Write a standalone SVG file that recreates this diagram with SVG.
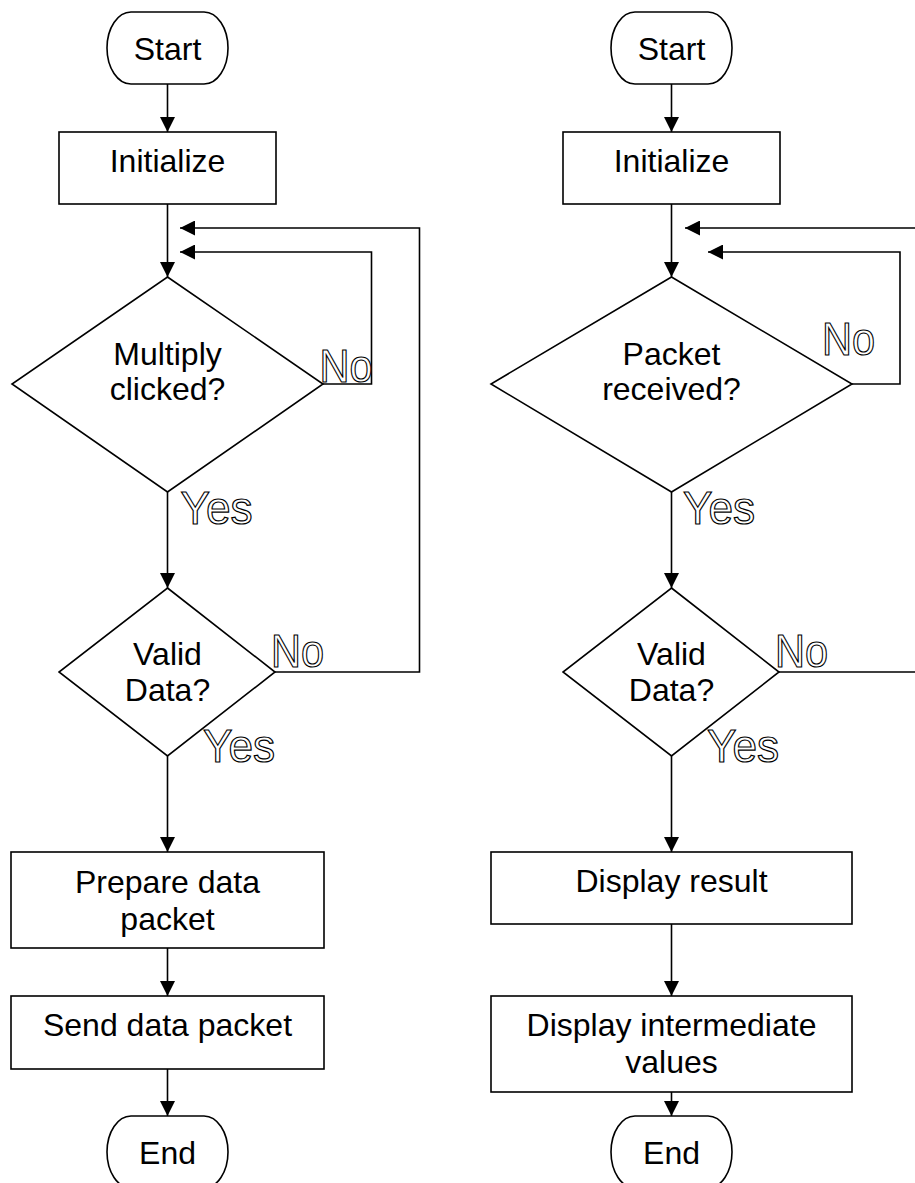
<svg xmlns="http://www.w3.org/2000/svg" width="915" height="1183" viewBox="0 0 915 1183">
  <style>
    .shape { fill: #ffffff; stroke: #000000; stroke-width: 1.6; }
    .wire { fill: none; stroke: #000000; stroke-width: 1.6; }
    .label { font-family: "Liberation Sans", Arial, sans-serif; font-size: 32px; fill: #000000; text-anchor: middle; }
    .branch { font-family: "Liberation Sans", Arial, sans-serif; font-size: 46px; fill: #ffffff; stroke: #000000; stroke-width: 1.2; }
  </style>
  <defs>
    <marker id="arrow" markerUnits="userSpaceOnUse" markerWidth="15" markerHeight="15" refX="15" refY="7.5" orient="auto">
      <path d="M0,0 L15,7.5 L0,15 Z" fill="#000000"/>
    </marker>
  </defs>
  <rect width="915" height="1183" fill="#ffffff"/>

  <!-- connectors -->
  <g id="connectors">
    <!-- sender flow -->
    <line class="wire" x1="167.5" y1="84" x2="167.5" y2="132" marker-end="url(#arrow)"/>
    <line class="wire" x1="167.5" y1="204" x2="167.5" y2="277" marker-end="url(#arrow)"/>
    <polyline class="wire" points="323,384 371.5,384 371.5,252 180,252" marker-end="url(#arrow)"/>
    <line class="wire" x1="167.5" y1="492" x2="167.5" y2="588" marker-end="url(#arrow)"/>
    <polyline class="wire" points="275,672 419.5,672 419.5,228 180,228" marker-end="url(#arrow)"/>
    <line class="wire" x1="167.5" y1="756" x2="167.5" y2="852" marker-end="url(#arrow)"/>
    <line class="wire" x1="167.5" y1="948" x2="167.5" y2="996" marker-end="url(#arrow)"/>
    <line class="wire" x1="167.5" y1="1069" x2="167.5" y2="1116" marker-end="url(#arrow)"/>
    <!-- receiver flow -->
    <line class="wire" x1="671.5" y1="84" x2="671.5" y2="132" marker-end="url(#arrow)"/>
    <line class="wire" x1="671.5" y1="204" x2="671.5" y2="277" marker-end="url(#arrow)"/>
    <polyline class="wire" points="852,384 900,384 900,252 708,252" marker-end="url(#arrow)"/>
    <line class="wire" x1="671.5" y1="492" x2="671.5" y2="588" marker-end="url(#arrow)"/>
    <polyline class="wire" points="779,672 924,672 924,228 685,228" marker-end="url(#arrow)"/>
    <line class="wire" x1="671.5" y1="756" x2="671.5" y2="852" marker-end="url(#arrow)"/>
    <line class="wire" x1="671.5" y1="924" x2="671.5" y2="996" marker-end="url(#arrow)"/>
    <line class="wire" x1="671.5" y1="1092" x2="671.5" y2="1116" marker-end="url(#arrow)"/>
  </g>

  <!-- sender nodes -->
  <g id="s-start">
    <rect class="shape" x="107" y="12" width="121" height="72" rx="24" ry="36"/>
    <text class="label" x="167.5" y="60">Start</text>
  </g>
  <g id="s-init">
    <rect class="shape" x="59" y="132" width="217" height="72"/>
    <text class="label" x="167.5" y="172">Initialize</text>
  </g>
  <g id="s-clicked">
    <polygon class="shape" points="167.5,277 323,384 167.5,492 12,384"/>
    <text class="label" x="167.5" y="365">Multiply</text>
    <text class="label" x="167.5" y="400">clicked?</text>
    <text class="branch" x="319.5" y="382" textLength="53" lengthAdjust="spacingAndGlyphs">No</text>
    <text class="branch" x="180.5" y="524" textLength="72" lengthAdjust="spacingAndGlyphs">Yes</text>
  </g>
  <g id="s-valid">
    <polygon class="shape" points="167.5,588 275,672 167.5,756 59,672"/>
    <text class="label" x="167.5" y="665">Valid</text>
    <text class="label" x="167.5" y="701">Data?</text>
    <text class="branch" x="271" y="667" textLength="53" lengthAdjust="spacingAndGlyphs">No</text>
    <text class="branch" x="203" y="762" textLength="72" lengthAdjust="spacingAndGlyphs">Yes</text>
  </g>
  <g id="s-prepare">
    <rect class="shape" x="11" y="852" width="313" height="96"/>
    <text class="label" x="167.5" y="893">Prepare data</text>
    <text class="label" x="167.5" y="930">packet</text>
  </g>
  <g id="s-send">
    <rect class="shape" x="11" y="996" width="313" height="73"/>
    <text class="label" x="167.5" y="1036">Send data packet</text>
  </g>
  <g id="s-end">
    <rect class="shape" x="107" y="1116" width="121" height="72" rx="24" ry="36"/>
    <text class="label" x="167.5" y="1164">End</text>
  </g>

  <!-- receiver nodes -->
  <g id="r-start">
    <rect class="shape" x="611" y="12" width="121" height="72" rx="24" ry="36"/>
    <text class="label" x="671.5" y="60">Start</text>
  </g>
  <g id="r-init">
    <rect class="shape" x="563" y="132" width="217" height="72"/>
    <text class="label" x="671.5" y="172">Initialize</text>
  </g>
  <g id="r-received">
    <polygon class="shape" points="671.5,277 852,384 671.5,492 491,384"/>
    <text class="label" x="671.5" y="365">Packet</text>
    <text class="label" x="671.5" y="400">received?</text>
    <text class="branch" x="822" y="355" textLength="53" lengthAdjust="spacingAndGlyphs">No</text>
    <text class="branch" x="683" y="524" textLength="72" lengthAdjust="spacingAndGlyphs">Yes</text>
  </g>
  <g id="r-valid">
    <polygon class="shape" points="671.5,588 779,672 671.5,756 563,672"/>
    <text class="label" x="671.5" y="665">Valid</text>
    <text class="label" x="671.5" y="701">Data?</text>
    <text class="branch" x="775" y="667" textLength="53" lengthAdjust="spacingAndGlyphs">No</text>
    <text class="branch" x="707" y="762" textLength="72" lengthAdjust="spacingAndGlyphs">Yes</text>
  </g>
  <g id="r-display">
    <rect class="shape" x="491" y="852" width="361" height="72"/>
    <text class="label" x="671.5" y="892">Display result</text>
  </g>
  <g id="r-intermediate">
    <rect class="shape" x="491" y="996" width="361" height="96"/>
    <text class="label" x="671.5" y="1036">Display intermediate</text>
    <text class="label" x="671.5" y="1073">values</text>
  </g>
  <g id="r-end">
    <rect class="shape" x="611" y="1116" width="121" height="72" rx="24" ry="36"/>
    <text class="label" x="671.5" y="1164">End</text>
  </g>
</svg>
